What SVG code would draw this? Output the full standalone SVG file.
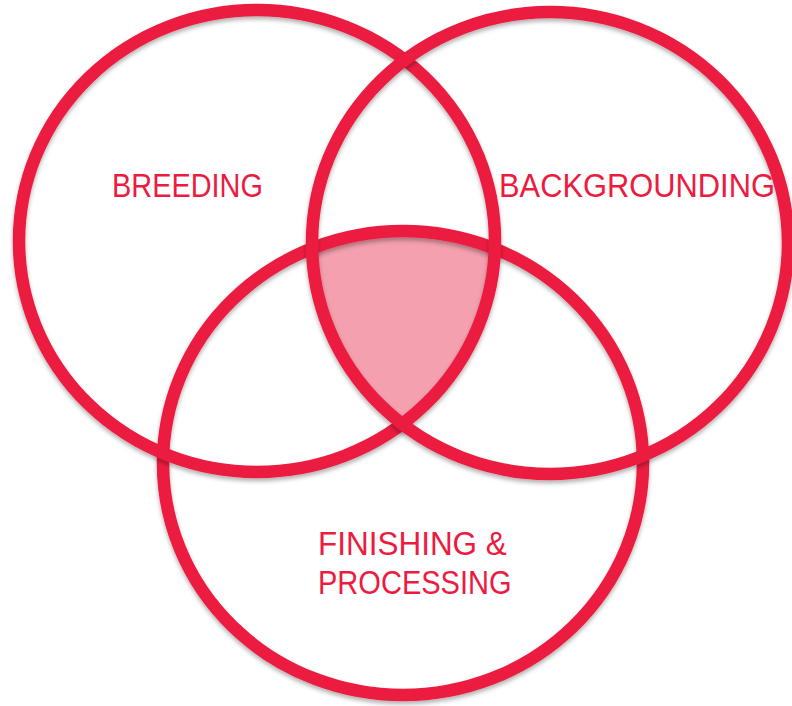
<svg xmlns="http://www.w3.org/2000/svg" width="792" height="706" viewBox="0 0 792 706">
  <style>
    .ring { fill: none; stroke: #EC1B3F; stroke-width: 12.5; filter: url(#shadow); }
    .label { font-family: "Liberation Sans", Arial, sans-serif; font-size: 33px; fill: #EC1B3F; }
  </style>
  <defs>
    <filter id="shadow" x="-10%" y="-10%" width="120%" height="120%">
      <feDropShadow dx="0" dy="3" stdDeviation="2" flood-color="#000" flood-opacity="0.3"/>
    </filter>
    <clipPath id="clipBreeding">
      <ellipse cx="257" cy="241" rx="238" ry="231"/>
    </clipPath>
    <clipPath id="clipBackgrounding">
      <ellipse cx="550" cy="243" rx="238" ry="231"/>
    </clipPath>
  </defs>
  <rect width="792" height="706" fill="#FFFFFF"/>

  <!-- shared region of all three stages -->
  <g id="overlap" clip-path="url(#clipBreeding)">
    <g clip-path="url(#clipBackgrounding)">
      <ellipse cx="403" cy="463" rx="240" ry="232" fill="#F4A0AE"/>
    </g>
  </g>

  <g id="finishing">
    <ellipse class="ring" cx="403" cy="463" rx="240" ry="232"/>
    <text class="label" transform="translate(318 555) scale(0.954 1)">FINISHING &amp;</text>
    <text class="label" transform="translate(318 594) scale(0.88 1)">PROCESSING</text>
  </g>

  <g id="breeding">
    <ellipse class="ring" cx="257" cy="241" rx="238" ry="231"/>
    <text class="label" transform="translate(112 197) scale(0.876 1)">BREEDING</text>
  </g>

  <g id="backgrounding">
    <ellipse class="ring" cx="550" cy="243" rx="238" ry="231"/>
    <text class="label" transform="translate(499 197) scale(0.935 1)">BACKGROUNDING</text>
  </g>
</svg>
